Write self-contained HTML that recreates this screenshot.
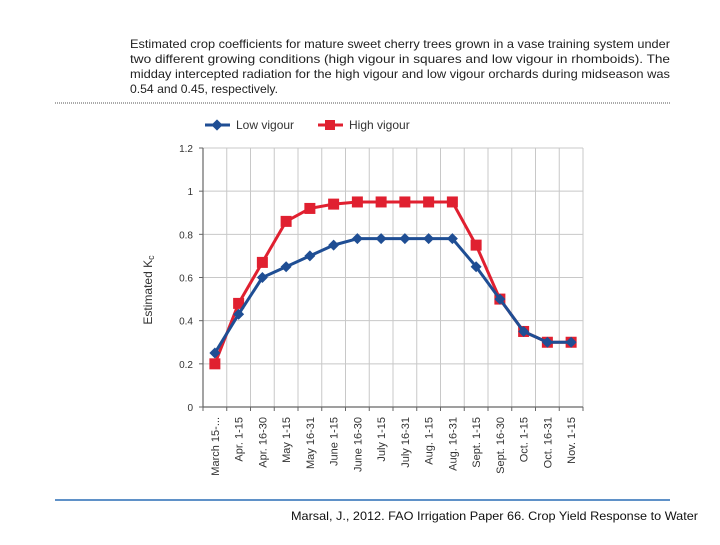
<!DOCTYPE html>
<html><head><meta charset="utf-8"><style>
body{margin:0;background:#fff;width:720px;height:540px;overflow:hidden}
svg text{font-family:"Liberation Sans",sans-serif}
</style></head><body>
<svg id="chart" width="720" height="540" xmlns="http://www.w3.org/2000/svg">
<g fill="#222" font-size="12">
<text x="130" y="48" textLength="540" lengthAdjust="spacingAndGlyphs">Estimated crop coefficients for mature sweet cherry trees grown in a vase training system under</text>
<text x="130" y="63" textLength="540" lengthAdjust="spacingAndGlyphs">two different growing conditions (high vigour in squares and low vigour in rhomboids). The</text>
<text x="130" y="78" textLength="540" lengthAdjust="spacingAndGlyphs">midday intercepted radiation for the high vigour and low vigour orchards during midseason was</text>
<text x="130" y="93" textLength="148" lengthAdjust="spacingAndGlyphs">0.54 and 0.45, respectively.</text>
</g>
<line x1="55" y1="103" x2="670" y2="103" stroke="#555" stroke-width="1" stroke-dasharray="1,1"/>
<line x1="55" y1="500" x2="670" y2="500" stroke="#2a6db5" stroke-width="1.5"/>
<text x="291" y="520" font-size="12" fill="#111" textLength="407" lengthAdjust="spacingAndGlyphs">Marsal, J., 2012. FAO Irrigation Paper 66. Crop Yield Response to Water</text>
<g>
<line x1="205" y1="125" x2="230" y2="125" stroke="#1f4e94" stroke-width="3"/>
<rect x="213" y="120" width="8" height="8" transform="rotate(45 217 124) translate(0.7 0.7)" fill="#1f4e94"/>
<text x="236" y="129" font-size="12" fill="#333">Low vigour</text>
<line x1="318" y1="125" x2="343" y2="125" stroke="#e02030" stroke-width="3"/>
<rect x="325" y="120" width="10" height="10" fill="#e02030"/>
<text x="349" y="129" font-size="12" fill="#333">High vigour</text>
</g>
<text transform="translate(152 290) rotate(-90)" text-anchor="middle" font-size="12" fill="#333">Estimated K<tspan font-size="9" dy="2">c</tspan></text>
<g id="grid"></g><g id="axes"></g><g id="series"></g>
</svg>
<script>
const categories=["March 15-...","Apr. 1-15","Apr. 16-30","May 1-15","May 16-31","June 1-15","June 16-30","July 1-15","July 16-31","Aug. 1-15","Aug. 16-31","Sept. 1-15","Sept. 16-30","Oct. 1-15","Oct. 16-31","Nov. 1-15"];
const lowVigour=[0.25,0.43,0.6,0.65,0.7,0.75,0.78,0.78,0.78,0.78,0.78,0.65,0.5,0.35,0.3,0.3];
const highVigour=[0.2,0.48,0.67,0.86,0.92,0.94,0.95,0.95,0.95,0.95,0.95,0.75,0.5,0.35,0.3,0.3];
const yTicks=[0,0.2,0.4,0.6,0.8,1,1.2];
const yTickLabels=["0","0.2","0.4","0.6","0.8","1","1.2"];
const NS="http://www.w3.org/2000/svg";
const L=203,R=583,T=148,B=407,yMax=1.2;
const bw=(R-L)/categories.length;
const xs=i=>L+bw*(i+0.5);
const ys=v=>B-(v/yMax)*(B-T);
function mk(tag,attrs,parent){const e=document.createElementNS(NS,tag);for(const k in attrs)e.setAttribute(k,attrs[k]);parent.appendChild(e);return e;}
const grid=document.getElementById('grid'),axes=document.getElementById('axes'),ser=document.getElementById('series');
yTicks.forEach((t,i)=>{
 const g=mk('line',{x1:L,x2:R,y1:ys(t),y2:ys(t),stroke:'#c8c8c8','stroke-width':1},grid);
 
 
 const tk=mk('line',{x1:L-4,x2:L,y1:ys(t),y2:ys(t),stroke:'#666'},axes);
 
 
 const tx=mk('text',{x:L-10,y:ys(t)+4,'text-anchor':'end','font-size':10,fill:'#333'},axes);
 tx.textContent=yTickLabels[i];
 
 
});
for(let i=1;i<=categories.length;i++){
 const x=L+bw*i;
 const g=mk('line',{x1:x,x2:x,y1:T,y2:B,stroke:'#c8c8c8','stroke-width':1},grid);
 
 
}
for(let i=0;i<=categories.length;i++){
 const x=L+bw*i;
 const tk=mk('line',{x1:x,x2:x,y1:B,y2:B+4,stroke:'#666'},axes);
 
 
}
const ya=mk('line',{x1:L,x2:L,y1:T,y2:B,stroke:'#666','stroke-width':1.2},axes);


const xa=mk('line',{x1:L,x2:R,y1:B,y2:B,stroke:'#666','stroke-width':1.2},axes);


categories.forEach((c,i)=>{
 const x=xs(i)+4,y=B+10;
 const t=mk('text',{x:x,y:y,transform:`rotate(-90 ${x} ${y})`,'text-anchor':'end','font-size':11,fill:'#333'},axes);
 t.textContent=c;
 
 
});
function path(vals){return vals.map((v,i)=>(i?'L':'M')+xs(i)+' '+ys(v)).join(' ');}
const hp=mk('path',{d:path(highVigour),fill:'none',stroke:'#e02030','stroke-width':3,'stroke-linejoin':'round'},ser);


highVigour.forEach((v,i)=>{
 const r=mk('rect',{x:xs(i)-5.5,y:ys(v)-5.5,width:11,height:11,fill:'#e02030'},ser);
 
 
});
const lp=mk('path',{d:path(lowVigour),fill:'none',stroke:'#1f4e94','stroke-width':3,'stroke-linejoin':'round'},ser);


lowVigour.forEach((v,i)=>{
 const x=xs(i),y=ys(v);
 const d=mk('polygon',{points:`${x},${y-5.5} ${x+5.5},${y} ${x},${y+5.5} ${x-5.5},${y}`,fill:'#1f4e94'},ser);
 
 
});
</script>
</body></html>
